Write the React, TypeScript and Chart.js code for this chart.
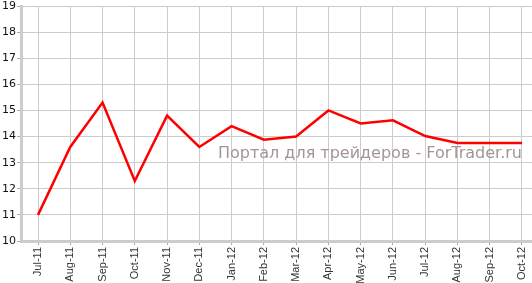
import React, { useEffect, useRef } from "react";
import { Chart, registerables } from "chart.js";

Chart.register(...registerables);

const categories = [
  "Jul-11", "Aug-11", "Sep-11", "Oct-11", "Nov-11", "Dec-11", "Jan-12", "Feb-12",
  "Mar-12", "Apr-12", "May-12", "Jun-12", "Jul-12", "Aug-12", "Sep-12", "Oct-12",
];
const values = [11.0, 13.6, 15.3, 12.3, 14.8, 13.6, 14.4, 13.88, 14.0, 15.0, 14.5, 14.62, 14.02, 13.75, 13.75, 13.75];
const yTicks = [10, 11, 12, 13, 14, 15, 16, 17, 18, 19];
const watermark = "Портал для трейдеров - ForTrader.ru";

export default function App() {
  const ref = useRef<HTMLCanvasElement | null>(null);
  useEffect(() => {
    document.body.style.margin = "0";
    const canvas = ref.current!;
    const wm = {
      id: "wm",
      beforeDatasetsDraw(chart: any) {
        const ctx = chart.ctx;
        ctx.save();
        ctx.font = "16px 'DejaVu Sans'";
        ctx.fillStyle = "#a39595";
        ctx.textAlign = "right";
        ctx.textBaseline = "alphabetic";
        ctx.fillText(watermark, 522, 158);
        ctx.restore();
      },
    };
    const chart = new Chart(canvas, {
      type: "line",
      data: {
        datasets: [
          {
            data: values.map((v, i) => ({ x: i, y: v })),
            borderColor: "#ff0000",
            borderWidth: 2.5,
            pointRadius: 0,
            tension: 0,
            fill: false,
          },
        ],
      },
      options: {
        animation: false,
        responsive: false,
        devicePixelRatio: 1,
        layout: { padding: { top: 6, right: 0, left: 0, bottom: 0 } },
        plugins: { legend: { display: false }, tooltip: { enabled: false }, title: { display: false } },
        scales: {
          x: {
            type: "linear",
            min: -0.527,
            max: 15.31,
            afterFit(s: any) { s.height = 42; s.paddingLeft = 0; s.paddingRight = 0; },
            afterBuildTicks(s: any) { s.ticks = categories.map((_, i) => ({ value: i })); },
            ticks: {
              includeBounds: false,
              stepSize: 1,
              autoSkip: false,
              minRotation: 90,
              maxRotation: 90,
              padding: 2,
              color: "#333",
              font: { family: "'Liberation Sans'", size: 11 },
              callback: (v: any) => categories[v] ?? "",
            },
            grid: { color: "#cccccc", lineWidth: 1, tickLength: 4, tickColor: "#aaaaaa" },
            border: { color: "#cccccc", width: 3 },
          },
          y: {
            min: 10,
            max: 19,
            afterFit(s: any) { s.width = 21; s.paddingTop = 0; s.paddingBottom = 0; },
            afterBuildTicks(s: any) { s.ticks = yTicks.map((v) => ({ value: v })); },
            ticks: {
              padding: 1,
              color: "#111",
              font: { family: "'DejaVu Sans'", size: 11 },
            },
            grid: { color: "#cccccc", lineWidth: 1, tickLength: 4, tickColor: "#aaaaaa" },
            border: { color: "#cccccc", width: 3 },
          },
        },
      },
      plugins: [wm],
    });
    return () => chart.destroy();
  }, []);
  return <canvas ref={ref} width={532} height={283} style={{ display: "block", width: 532, height: 283 }} />;
}
